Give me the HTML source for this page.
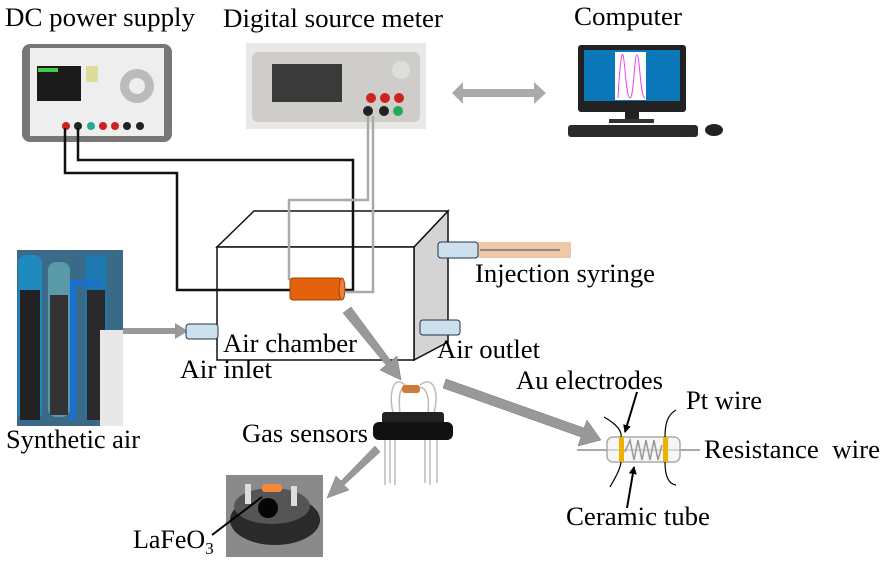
<!DOCTYPE html>
<html><head><style>
body{margin:0;background:#fff;}
svg{display:block;}
text{font-family:"Liberation Serif",serif;fill:#000;}
</style></head><body>
<svg width="882" height="563" viewBox="0 0 882 563" xmlns="http://www.w3.org/2000/svg">
<defs>
<marker id="bk" markerWidth="8" markerHeight="8" refX="7" refY="4" orient="auto" markerUnits="userSpaceOnUse"><path d="M0,0 L8,4 L0,8Z" fill="#000"/></marker>
</defs>
<text x="5" y="26" font-size="26" textLength="190" lengthAdjust="spacingAndGlyphs">DC power supply</text>
<text x="223" y="27" font-size="26" textLength="220" lengthAdjust="spacingAndGlyphs">Digital source meter</text>
<text x="574" y="25" font-size="26" textLength="108" lengthAdjust="spacingAndGlyphs">Computer</text>

<!-- PSU -->
<rect x="22" y="44" width="150" height="98" rx="8" fill="#777"/>
<rect x="30" y="48" width="134" height="88" fill="#eee"/>
<rect x="37" y="66" width="44" height="35" fill="#1a1a1a"/>
<rect x="38" y="68" width="20" height="4" fill="#4c4"/>
<rect x="86" y="66" width="12" height="16" fill="#dd9"/>
<circle cx="137" cy="86" r="17" fill="#bbb"/><circle cx="137" cy="86" r="8" fill="#eee"/>
<circle cx="66" cy="126" r="4" fill="#c22"/><circle cx="78" cy="126" r="4" fill="#222"/>
<circle cx="91" cy="126" r="4" fill="#2a9"/><circle cx="103" cy="126" r="4" fill="#c22"/>
<circle cx="115" cy="126" r="4" fill="#c22"/><circle cx="127" cy="126" r="4" fill="#222"/><circle cx="140" cy="126" r="4" fill="#222"/>

<!-- SMU -->
<rect x="246" y="43" width="180" height="86" fill="#eae8e6"/>
<rect x="252" y="52" width="168" height="70" rx="6" fill="#cfcdca"/>
<rect x="272" y="64" width="70" height="38" fill="#3a3a3a"/>
<circle cx="401" cy="70" r="9" fill="#ddd"/>
<circle cx="371" cy="98" r="5" fill="#c22"/><circle cx="385" cy="98" r="5" fill="#c22"/><circle cx="399" cy="98" r="5" fill="#c22"/>
<circle cx="368" cy="111" r="5" fill="#222"/><circle cx="384" cy="111" r="5" fill="#222"/><circle cx="398" cy="111" r="5" fill="#2a5"/>

<polygon points="452,93 463,82 463,89 534,89 534,82 546,93 534,104 534,97 463,97 463,104" fill="#aaa"/>

<!-- Computer -->
<rect x="578" y="45" width="108" height="67" rx="3" fill="#222"/>
<rect x="584" y="50" width="96" height="51" fill="#0a78b8"/>
<rect x="615" y="52" width="31" height="48" fill="#fff"/>
<path d="M618,98 C620,60 622,52 623,55 C625,60 626,98 630,98 C634,98 634,55 637,55 C640,55 640,98 645,98" stroke="#e4e" fill="none" stroke-width="1"/>
<rect x="625" y="112" width="14" height="8" fill="#222"/>
<rect x="609" y="119" width="45" height="4" fill="#333"/>
<rect x="568" y="125" width="130" height="12" rx="3" fill="#2a2a2a"/>
<ellipse cx="714" cy="130" rx="9" ry="6" fill="#222"/>

<!-- chamber -->
<polygon points="414,247 448,211 448,342 414,360" fill="#d4d4d4" stroke="#111" stroke-width="1.5"/>
<polygon points="217,247 254,211 448,211 414,247" fill="#fff" stroke="#111" stroke-width="1.5"/>
<rect x="217" y="247" width="197" height="113" fill="#fff" stroke="#111" stroke-width="1.5"/>

<g fill="none" stroke-width="2.5">
<polyline points="65,128 65,173 177,173 177,290 292,290" stroke="#111"/>
<polyline points="78,128 78,160 353,160 353,290 342,290" stroke="#111"/>
<polyline points="368,116 368,200 289,200 289,280" stroke="#aaa"/>
<polyline points="373,116 373,292 346,292" stroke="#aaa"/>
</g>
<rect x="290" y="278" width="52" height="22" rx="3" fill="#e4620e" stroke="#a04000"/>
<ellipse cx="342" cy="289" rx="3" ry="11" fill="#f08040" stroke="#a04000"/>
<text x="223" y="352" font-size="26" textLength="134" lengthAdjust="spacingAndGlyphs">Air chamber</text>

<!-- syringe -->
<rect x="478" y="242" width="93" height="16" fill="#f0c8a8"/>
<line x1="480" y1="250" x2="560" y2="250" stroke="#888" stroke-width="2"/>
<rect x="438" y="242" width="40" height="16" rx="3" fill="#cde0ee" stroke="#234"/>
<text x="475" y="282" font-size="26" textLength="180" lengthAdjust="spacingAndGlyphs">Injection syringe</text>
<rect x="420" y="320" width="40" height="15" rx="3" fill="#cde0ee" stroke="#234"/>
<text x="437" y="358" font-size="26" textLength="103" lengthAdjust="spacingAndGlyphs">Air outlet</text>

<!-- cylinders -->
<rect x="17" y="250" width="106" height="176" fill="#3a6a88"/>
<rect x="18" y="255" width="24" height="165" rx="8" fill="#1f8ac0"/>
<rect x="20" y="290" width="20" height="130" fill="#222"/>
<rect x="48" y="262" width="22" height="155" rx="8" fill="#5a9aa8"/>
<rect x="50" y="295" width="18" height="120" fill="#333"/>
<rect x="85" y="255" width="22" height="165" rx="6" fill="#1e78b0"/>
<rect x="87" y="290" width="18" height="130" fill="#2a2a2a"/>
<rect x="70" y="280" width="30" height="6" fill="#1a70d0"/>
<rect x="70" y="280" width="6" height="140" fill="#1a70d0"/>
<rect x="100" y="330" width="23" height="96" fill="#e8e8e8"/>
<polygon points="123,328 175,328 175,323 188,331 175,339 175,334 123,334" fill="#999"/>
<rect x="186" y="324" width="32" height="15" rx="3" fill="#cde0ee" stroke="#234"/>
<text x="180" y="378" font-size="26" textLength="92" lengthAdjust="spacingAndGlyphs">Air inlet</text>
<text x="6" y="448" font-size="26" textLength="134" lengthAdjust="spacingAndGlyphs">Synthetic air</text>

<!-- gray arrows -->
<polygon points="343,313 351,307 391,361 397,356 401,380 380,370 386,365" fill="#999" stroke="#777" stroke-width="0.5"/>
<polygon points="443,388 446,379 584,428 587,420 601,440 578,446 581,437" fill="#999" stroke="#777" stroke-width="0.5"/>
<polygon points="380,452 375,446 341,481 336,476 327,498 349,490 344,485" fill="#999" stroke="#777" stroke-width="0.5"/>

<!-- gas sensor -->
<g fill="none" stroke="#bbb" stroke-width="1.5">
<path d="M393,413 C388,390 395,375 405,385"/><path d="M400,413 C398,395 400,385 408,388"/>
<path d="M434,413 C440,390 432,375 420,385"/><path d="M428,413 C430,395 425,385 418,388"/>
<line x1="385" y1="440" x2="385" y2="485"/><line x1="390" y1="440" x2="390" y2="483"/>
<line x1="395" y1="440" x2="395" y2="485"/><line x1="425" y1="440" x2="425" y2="483"/>
<line x1="430" y1="440" x2="430" y2="485"/><line x1="437" y1="440" x2="437" y2="483"/>
</g>
<rect x="402" y="385" width="18" height="8" rx="3" fill="#d07a3a"/>
<rect x="382" y="412" width="62" height="12" rx="3" fill="#222"/>
<rect x="373" y="422" width="80" height="18" rx="6" fill="#111"/>
<text x="242" y="442" font-size="26" textLength="126" lengthAdjust="spacingAndGlyphs">Gas sensors</text>

<!-- photo -->
<rect x="226" y="475" width="97" height="82" fill="#8a8a8a"/>
<ellipse cx="275" cy="520" rx="45" ry="25" fill="#2a2a2a"/>
<ellipse cx="272" cy="506" rx="38" ry="18" fill="#555"/>
<circle cx="268" cy="508" r="10" fill="#050505"/>
<rect x="262" y="484" width="20" height="8" rx="3" fill="#f08a3a"/>
<rect x="245" y="484" width="6" height="20" fill="#ddd"/><rect x="291" y="486" width="6" height="20" fill="#ddd"/>
<line x1="212" y1="535" x2="262" y2="497" stroke="#000" stroke-width="2"/>
<text x="133" y="548" font-size="26">LaFeO<tspan font-size="17" dy="6">3</tspan></text>

<!-- resistor detail -->
<line x1="577" y1="450" x2="700" y2="450" stroke="#aaa" stroke-width="2"/>
<rect x="607" y="437" width="73" height="25" rx="6" fill="rgba(240,240,240,0.6)" stroke="#aaa" stroke-width="1.5"/>
<polyline points="625,452 630,440 634,460 638,440 642,460 646,440 650,460 654,440 658,460 662,445" fill="none" stroke="#999" stroke-width="1.5"/>
<rect x="619" y="437" width="5" height="25" fill="#f0b000"/>
<rect x="663" y="437" width="5" height="25" fill="#f0b000"/>
<path d="M604,417 C618,425 622,432 621,437 M621,462 C620,470 615,478 610,487" fill="none" stroke="#000" stroke-width="1.2"/>
<path d="M676,410 C667,415 665,425 665,437 M665,462 C665,475 668,484 676,485" fill="none" stroke="#000" stroke-width="1.2"/>
<line x1="637" y1="392" x2="625" y2="432" stroke="#000" stroke-width="2" marker-end="url(#bk)"/>
<line x1="627" y1="508" x2="634" y2="467" stroke="#000" stroke-width="2" marker-end="url(#bk)"/>
<text x="516" y="389" font-size="26" textLength="147" lengthAdjust="spacingAndGlyphs">Au electrodes</text>
<text x="686" y="409" font-size="26" textLength="76" lengthAdjust="spacingAndGlyphs">Pt wire</text>
<text x="704" y="458" font-size="26" textLength="176" lengthAdjust="spacingAndGlyphs">Resistance&#160;&#160;wire</text>
<text x="566" y="525" font-size="26" textLength="144" lengthAdjust="spacingAndGlyphs">Ceramic tube</text>
</svg>
</body></html>
